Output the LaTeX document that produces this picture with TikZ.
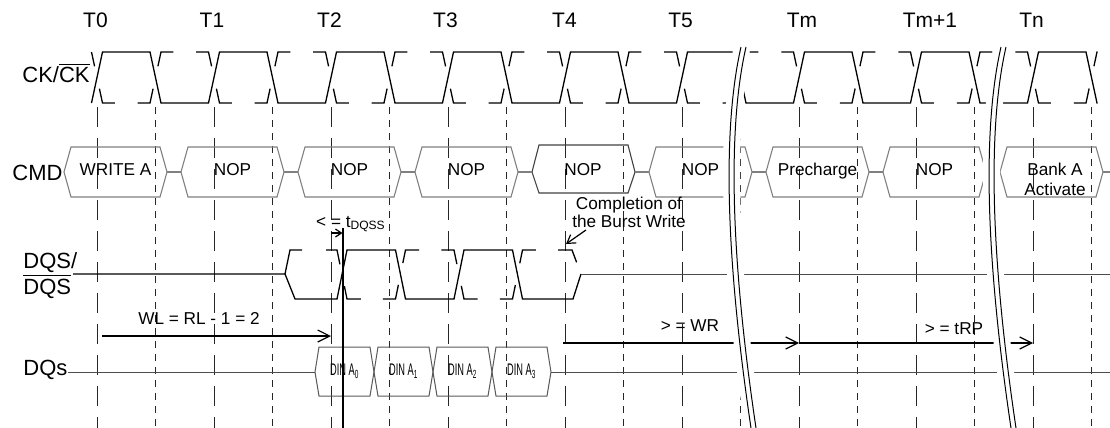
\documentclass[tikz,border=0pt]{standalone}
\usepackage{fontspec}
\setmainfont{Liberation Sans}
\usepackage{graphicx}
\usetikzlibrary{arrows.meta}

\begin{document}
\begin{tikzpicture}[x=0.5pt,y=-0.5pt,
  >={Straight Barb[length=6pt,width=6pt]},
  sig/.style={line width=0.65pt},
  ckbar/.style={sig,dash pattern=on 13.5pt off 11.42pt,dash phase=6.17pt},
  dqsbar/.style={sig,dash pattern=on 13.5pt off 11.1pt,dash phase=0.7pt},
  vlong/.style={black!85,line width=0.45pt,dash pattern=on 10pt off 5.5pt},
  vshort/.style={black!85,line width=0.45pt,dash pattern=on 3.5pt off 3pt},
  cmdbox/.style={gray,line width=0.55pt},
  dinbox/.style={black!65,line width=0.5pt},
  arr/.style={line width=0.6pt},
  lbl/.style={font=\fontsize{11}{11}\selectfont,anchor=base west,inner sep=0pt},
  tlabel/.style={font=\fontsize{10.5}{12}\selectfont,anchor=base,inner sep=0pt},
  txt/.style={font=\fontsize{8.6}{10}\selectfont,inner sep=0pt},
  din/.style={font=\fontsize{8.4}{10}\selectfont,inner sep=0pt}]
\useasboundingbox (0,0) rectangle (1110,428);

% clock names
\foreach \x/\t [count=\i] in {95.5/T0,212/T1,329.5/T2,445.5/T3,564.5/T4,680.5/T5,802/Tm,930/Tm+1,1031.5/Tn}
  \node[tlabel] (T\i) at (\x,27) {\t};

% grid lines
\foreach \x in {97,214,...,1033} \draw[vlong] (\x,107) -- (\x,428);
\foreach \x in {155.5,272.5,...,1091.5} \draw[vshort] (\x,107) -- (\x,428);

% signal names
\node[lbl] (ck) at (22,83) {CK/$\overline{\mbox{CK}}$};
\node[lbl] (cmd) at (12,180) {CMD};
\node[lbl,align=left] (dqs) at (23,294) {DQS/\\$\overline{\mbox{DQS}}$};
\node[lbl] (dq) at (23,375) {DQs};

% clock
\begin{scope}
  \clip (85,40) rectangle (1097.5,110);
  \draw[sig] (91.5,103) \foreach \x in {97,214,...,1033} { -- (\x+5.5,52) -- (\x+53,52) -- (\x+64,103) -- (\x+111.5,103) };
  \draw[ckbar] (91.5,52) \foreach \x in {97,214,...,1033} { -- (\x+5.5,103) -- (\x+53,103) -- (\x+64,52) -- (\x+111.5,52) };
\end{scope}

% command bus
\foreach \c/\t/\n in {115.5/WRITE A/1,232.5/NOP/2,349.5/NOP/3,466.5/NOP/4,700.5/NOP/6,817.5/Precharge/7,934.5/NOP/8} {
  \draw[cmdbox] (\c-51.5,172) -- (\c-44.5,147) -- (\c+44.5,147) -- (\c+51.5,172) -- (\c+44.5,197) -- (\c-44.5,197) -- cycle;
  \node[txt,anchor=base] (cmd\n) at (\c,175) {\t};
}
\draw[cmdbox,black!75] (532,172) -- (539,145) -- (628,145) -- (635,172) -- (628,193) -- (539,193) -- cycle;
\node[txt,anchor=base] (cmd5) at (583,175) {NOP};
\draw[cmdbox] (1000,172) -- (1007,147) -- (1096,147) -- (1103,172) -- (1096,197) -- (1007,197) -- cycle;
\node[txt,anchor=base,align=center] (cmd9) at (1055,195) {Bank A\\Activate};
\foreach \c in {115.5,232.5,...,934.5} \draw[cmdbox] (\c+51.5,172) -- (\c+65.5,172);
\draw[cmdbox] (1103,172) -- (1110,172);

% data strobe
\draw[sig] (73,274) -- (285,274) -- (295,299) -- (337,299) -- (347,250) -- (395.5,250) -- (405.5,299)
  -- (454,299) -- (464,250) -- (512.5,250) -- (522.5,299) -- (573,299) -- (581,274);
\draw[line width=0.5pt,black!70] (581,274) -- (1110,274);
\draw[sig,dash pattern=on 20pt off 2pt] (285,274) -- (290,250) -- (302,250);
\draw[dqsbar] (326,250) -- (337,250) -- (347,299) -- (395.5,299) -- (405.5,250) -- (454,250) -- (464,299)
  -- (512.5,299) -- (522.5,250) -- (572,250) -- (581,274);

% data
\draw[line width=0.5pt,black!70] (68,372) -- (315,372);
\draw[line width=0.5pt,black!70] (551,372) -- (1110,372);
\foreach \a/\i in {315/0,374/1,433/2,492/3} {
  \draw[dinbox] (\a,372) -- (\a+4,347) -- (\a+55,347) -- (\a+59,372) -- (\a+55,396) -- (\a+4,396) -- cycle;
  \node[din] (din\i) at (\a+29.5,371) {\scalebox{0.55}[1]{DIN A\textsubscript{\i}}};
}

% timing
\coordinate (dqss top) at (343,228);
\coordinate (dqss bot) at (343,428);
\draw[sig] (dqss top) -- (dqss bot);
\coordinate (t2 mark) at (331,233);
\coordinate (dqss mark) at (342.5,233);
\draw[arr,->,>={Straight Barb[length=3pt,width=4pt]}] (t2 mark) -- (dqss mark);
\node[txt] (dqss) at (351,224) {< = t\textsubscript{DQSS}};

\node[txt,align=center,font=\fontsize{8.6}{7.6}\selectfont] (done) at (629,212) {Completion of\\the Burst Write};
\coordinate (done tip) at (566,244);
\draw[arr,->,>={Straight Barb[length=4pt,width=5pt]}] (586,230) -- (done tip);

\coordinate (wl start) at (102,336);
\coordinate (wl end) at (331,336);
\draw[arr,->] (wl start) -- (wl end);
\node[txt] (wl) at (199,318) {WL = RL - 1 = 2};

\coordinate (wr start) at (563,343);
\coordinate (wr end) at (799,343);
\draw[arr,->] (wr start) -- (wr end);
\node[txt] (wr) at (690,326) {> = WR};

\coordinate (rp end) at (1033,343);
\draw[arr,->] (wr end) -- (rp end);
\node[txt] (rp) at (954,329) {> = tRP};

% breaks
\foreach \b in {0,260} {
  \fill[white] (735+\b,40) .. controls (716+\b,130) and (720+\b,260) .. (745+\b,430)
    -- (762+\b,430) .. controls (737+\b,260) and (733+\b,130) .. (752+\b,40) -- cycle;
  \draw[line width=0.5pt] (741+\b,47) .. controls (722+\b,130) and (726+\b,260) .. (751+\b,428);
  \draw[line width=0.5pt] (746+\b,47) .. controls (727+\b,130) and (731+\b,260) .. (756+\b,428);
}
\end{tikzpicture}
\end{document}
